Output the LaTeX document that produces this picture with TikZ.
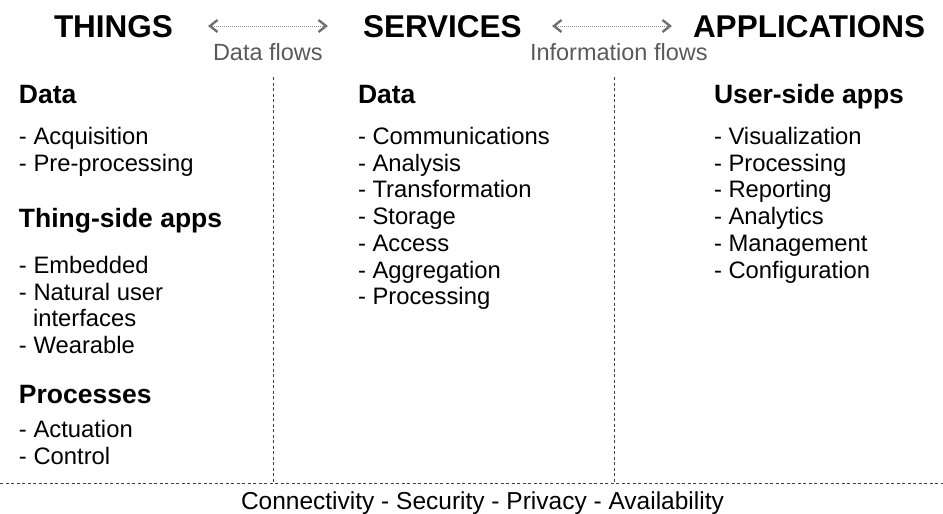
\documentclass[tikz,border=0pt]{standalone}
\usepackage{fontspec}
\setmainfont{Liberation Sans}
\definecolor{flowtext}{HTML}{5A5A5A}
\definecolor{flowline}{HTML}{707070}
\definecolor{divider}{HTML}{404040}
\begin{document}
\begin{tikzpicture}[x=1pt,y=-1pt,
  txt/.style={inner sep=0pt,outer sep=0pt,anchor=base west},
  title/.style={txt,font=\fontsize{31.5}{31.5}\selectfont\bfseries},
  head/.style={txt,font=\fontsize{26.5}{26.5}\selectfont\bfseries},
  item/.style={txt,font=\fontsize{23.8}{23.8}\selectfont},
  flow/.style={txt,font=\fontsize{23.5}{23.5}\selectfont,text=flowtext},
  flowarrow/.style={draw=flowline!80,line width=0.7pt,dash pattern=on 1pt off 1pt},
  chevron/.style={draw=flowline,line width=2.4pt,line join=miter},
  divline/.style={draw=divider,line width=0.8pt,dash pattern=on 3pt off 2.5pt}]
\useasboundingbox (0,0) rectangle (943,514);

% column titles
\node[title] (things) at (54,37) {THINGS};
\node[title] (services) at (363,37) {SERVICES};
\node[title] (apps) at (693,37) {APPLICATIONS};

% flows between the columns: dotted shaft with open chevron ends
\coordinate (f1a) at (210,26);
\coordinate (f1b) at (326,26);
\coordinate (f2a) at (554,26);
\coordinate (f2b) at (670,26);
\draw[flowarrow] (f1a) -- (f1b);
\draw[flowarrow] (f2a) -- (f2b);
\foreach \p in {f1a,f2a}
  \draw[chevron] (\p) ++(7.5,-6) -- ++(-7.5,6) -- ++(7.5,6);
\foreach \p in {f1b,f2b}
  \draw[chevron] (\p) ++(-7.5,-6) -- ++(7.5,6) -- ++(-7.5,6);
\node[flow] (dflows) at (213,60) {Data flows};
\node[flow] (iflows) at (530,60) {Information flows};

% dividers
\coordinate (v1t) at (273,77);
\coordinate (v1b) at (273,483);
\coordinate (v2t) at (614,77);
\coordinate (v2b) at (614,483);
\coordinate (hl) at (0,483);
\coordinate (hr) at (943,483);
\draw[divline] (v1t) -- (v1b);
\draw[divline] (v2t) -- (v2b);
\draw[divline] (hl) -- (hr);

% things column
\node[head] (tdata) at (19,103) {Data};
\node[item] (t1) at (19,144.5) {- Acquisition};
\node[item] (t2) at (19,171.2) {- Pre-processing};
\node[head] (tside) at (19,227) {Thing-side apps};
\node[item] (t3) at (19,273) {- Embedded};
\node[item] (t4) at (19,300) {- Natural user};
\node[item] (t5) at (33,326.7) {interfaces};
\node[item] (t6) at (19,353.4) {- Wearable};
\node[head] (tproc) at (19,403) {Processes};
\node[item] (t7) at (19,437.5) {- Actuation};
\node[item] (t8) at (19,464.2) {- Control};

% services column
\node[head] (sdata) at (358,103) {Data};
\foreach \t [count=\i from 0] in {Communications,Analysis,Transformation,Storage,Access,Aggregation,Processing}
  \node[item] (s\i) at (358,144.5+26.7*\i) {- \t};

% applications column
\node[head] (aside) at (714,103) {User-side apps};
\foreach \t [count=\i from 0] in {Visualization,Processing,Reporting,Analytics,Management,Configuration}
  \node[item] (a\i) at (714,144.5+26.7*\i) {- \t};

% cross-cutting concerns
\node[item,font=\fontsize{24.5}{24.5}\selectfont] (cross) at (241,509) {Connectivity - Security - Privacy - Availability};
\end{tikzpicture}
\end{document}
